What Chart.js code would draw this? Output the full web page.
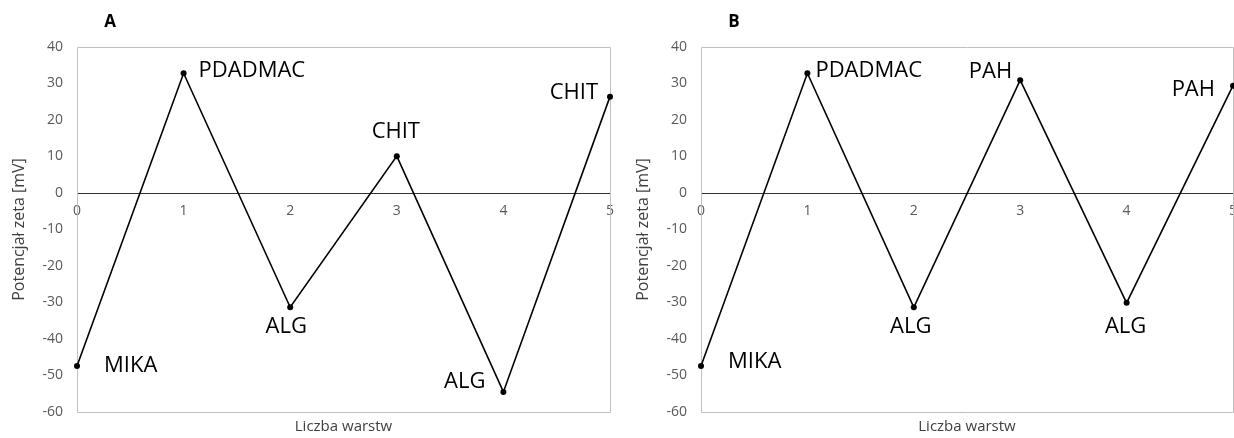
<!DOCTYPE html>
<html>
<head>
<meta charset="utf-8">
<script src="https://cdn.jsdelivr.net/npm/chart.js@4"></script>
<style>
    html, body { margin: 0; padding: 0; background: #fff; }
    #wrap { position: relative; width: 1234px; height: 438px; overflow: hidden; }
    canvas { position: absolute; top: 0; }
    #chart-a { left: 0; }
    #chart-b { left: 624px; }
</style>
</head>
<body>
<div id="wrap">
    <canvas id="chart-a" width="617" height="438"></canvas>
    <canvas id="chart-b" width="613" height="438"></canvas>
</div>
<script>
// DATA
const layers = [0, 1, 2, 3, 4, 5];
const zetaA = [-47.4, 32.8, -31.3, 10.1, -54.5, 26.4];
const zetaB = [-47.4, 32.8, -31.3, 30.9, -30.1, 29.4];
const namesA = ['MIKA', 'PDADMAC', 'ALG', 'CHIT', 'ALG', 'CHIT'];
const namesB = ['MIKA', 'PDADMAC', 'ALG', 'PAH', 'ALG', 'PAH'];
const yMin = -60, yMax = 40, yStep = 10;
const xTitle = 'Liczba warstw';
const yTitle = 'Potencjał zeta [mV]';

// label placement next to each point: [dx, dy, align]
const placeA = [[27, 0, 'left'], [15, -3, 'left'], [-4, 19, 'center'], [-1, -24, 'center'], [-18, -10, 'right'], [-12, -4, 'right']];
const placeB = [[27, -4, 'left'], [8, -3, 'left'], [-3, 19, 'center'], [-8, -8, 'right'], [-1, 24, 'center'], [-18, 4, 'right']];

const THEME = {
    line: '#000000',
    tick: '#595959',
    title: '#404040',
    box: '#bfbfbf',
    zero: '#333333',
    font: 'Open Sans'
};

Chart.defaults.font.family = THEME.font;

// grey frame round the plot, panel letter and x title
const panelDecor = {
    id: 'panelDecor',
    beforeDatasetsDraw(chart) {
        const { ctx, chartArea: a } = chart;
        ctx.save();
        ctx.strokeStyle = THEME.box;
        ctx.lineWidth = 1;
        ctx.beginPath();
        ctx.moveTo(a.left + 0.5, a.bottom + 0.5);
        ctx.lineTo(a.left + 0.5, a.top + 0.5);
        ctx.lineTo(a.right + 0.5, a.top + 0.5);
        ctx.lineTo(a.right + 0.5, a.bottom + 0.5);
        ctx.closePath();
        ctx.stroke();
        ctx.restore();
    },
    afterDraw(chart, args, opts) {
        const { ctx, chartArea: a } = chart;
        ctx.save();
        ctx.fillStyle = '#000';
        ctx.textBaseline = 'middle';
        ctx.textAlign = 'center';
        ctx.font = 'bold 17px ' + THEME.font;
        ctx.fillText(opts.letter, a.left + 33, 22);
        ctx.fillStyle = THEME.title;
        ctx.font = '15px ' + THEME.font;
        ctx.fillText(xTitle, (a.left + a.right) / 2, 427);
        ctx.restore();
    }
};

// names written beside the points
const pointNames = {
    id: 'pointNames',
    afterDatasetsDraw(chart, args, opts) {
        const { ctx } = chart;
        const pts = chart.getDatasetMeta(0).data;
        ctx.save();
        ctx.fillStyle = '#000';
        ctx.font = '22px ' + THEME.font;
        ctx.textBaseline = 'middle';
        pts.forEach((p, i) => {
            const [dx, dy, align] = opts.place[i];
            ctx.textAlign = align;
            ctx.fillText(opts.names[i], p.x + dx, p.y + dy);
        });
        ctx.restore();
    }
};

function makeChart(id, values, names, place, letter, padRight) {
    return new Chart(document.getElementById(id), {
        type: 'line',
        data: {
            datasets: [{
                data: layers.map((x, i) => ({ x, y: values[i] })),
                borderColor: THEME.line,
                borderWidth: 1.6,
                pointRadius: 3,
                pointBackgroundColor: THEME.line,
                pointBorderWidth: 0,
                tension: 0,
                clip: false
            }]
        },
        options: {
            responsive: false,
            animation: false,
            layout: { padding: { top: 47, bottom: 26, left: 0, right: padRight } },
            scales: {
                x: {
                    type: 'linear',
                    position: { y: 0 },
                    min: 0,
                    max: 5,
                    grid: { display: false, drawTicks: false },
                    border: { display: true, color: THEME.zero, width: 1 },
                    ticks: { stepSize: 1, padding: 10, color: THEME.tick, font: { size: 14 } },
                    afterFit(scale) { scale.paddingLeft = 0; scale.paddingRight = 0; }
                },
                y: {
                    min: yMin,
                    max: yMax,
                    grid: { display: false, drawTicks: false },
                    border: { display: false },
                    ticks: { stepSize: yStep, padding: 14, color: THEME.tick, font: { size: 14 } },
                    title: {
                        display: true,
                        text: yTitle,
                        color: THEME.title,
                        font: { size: 16 },
                        padding: { top: 10, bottom: 0 }
                    },
                    afterFit(scale) { scale.width = 77; }
                }
            },
            plugins: {
                legend: { display: false },
                tooltip: { enabled: false },
                panelDecor: { letter },
                pointNames: { names, place }
            }
        },
        plugins: [panelDecor, pointNames]
    });
}

makeChart('chart-a', zetaA, namesA, placeA, 'A', 7);
makeChart('chart-b', zetaB, namesB, placeB, 'B', 1);
</script>
</body>
</html>
